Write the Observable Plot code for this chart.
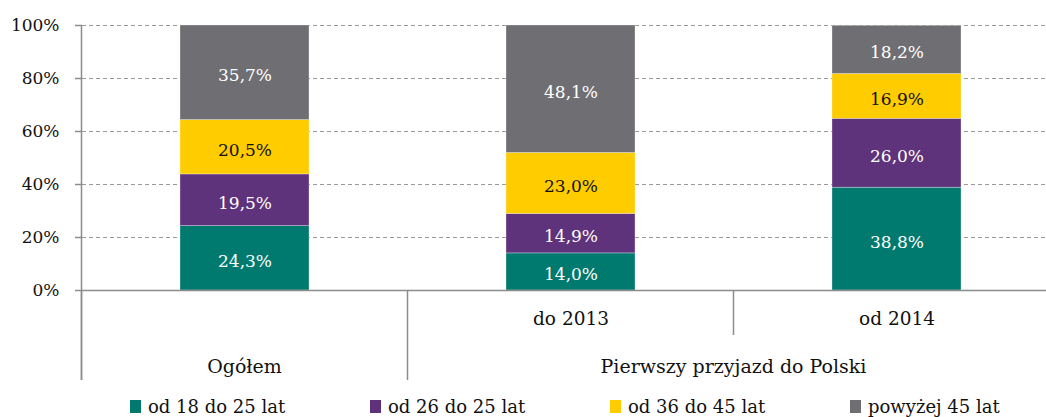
<!DOCTYPE html>
<html><head><meta charset="utf-8">
<script src="https://cdn.jsdelivr.net/npm/d3@7"></script>
<script src="https://cdn.jsdelivr.net/npm/@observablehq/plot@0.6"></script>
<style>
body{margin:0;background:#fff;}
#chart svg{display:block;font-family:"DejaVu Serif",serif;}
#chart svg text{font-family:"DejaVu Serif",serif;}
#chart g[aria-label="y-axis tick"] path{stroke:#8c8c8c;stroke-width:1.5;}
#chart g[aria-label="y-axis tick label"]{fill:#111;font-size:17px;}
#chart g[aria-label="x-axis tick label"]{fill:#111;font-size:18.5px;}
#legend{display:block;font-family:"DejaVu Serif",serif;}
</style></head>
<body><div id="chart"></div>
<script>
// ---- data ----
const categories = ["Ogółem", "do 2013", "od 2014"];
const groups = [
  {name: "Ogółem", members: ["Ogółem"]},
  {name: "Pierwszy przyjazd do Polski", members: ["do 2013", "od 2014"]}
];
const seriesNames = ["od 18 do 25 lat", "od 26 do 25 lat", "od 36 do 45 lat", "powyżej 45 lat"];
const age18to25 = [24.3, 14.0, 38.8];
const age26to35 = [19.5, 14.9, 26.0];
const age36to45 = [20.5, 23.0, 16.9];
const age45plus = [35.7, 48.1, 18.2];
const yTicks = [0, 20, 40, 60, 80, 100];
const seriesColors = ["#007a6f", "#5e337b", "#ffcc00", "#6f6e73"];

const seriesValues = [age18to25, age26to35, age36to45, age45plus];
const table = [];
seriesNames.forEach((s, i) => categories.forEach((c, j) => table.push({series: s, category: c, value: seriesValues[i][j]})));
const fmt = v => v.toFixed(1).replace(".", ",") + "%";
const darkText = seriesNames[2];

const PAD = 0.604;
const LEVEL1 = 45, LEVEL2 = 90;

function categoryFrame(index, scales, values, dims) {
  const x = scales.x, y = scales.y;
  const step = typeof x.step === "function" ? x.step() : x(categories[1]) - x(categories[0]);
  const bw = typeof x.bandwidth === "function" ? x.bandwidth() : step * (1 - PAD);
  const center = c => x(c) + bw / 2;
  const left = c => center(c) - step / 2;
  const base = y(0);
  const g = d3.create("svg:g");
  const line = (x0, y1, y2) => g.append("line").attr("x1", x0).attr("x2", x0).attr("y1", y1).attr("y2", y2)
    .attr("stroke", "#8c8c8c").attr("stroke-width", 1.5);
  line(left(categories[0]), y(100), base + LEVEL2);
  groups.forEach(gr => {
    line(left(gr.members[0]), base, base + LEVEL2);
    gr.members.slice(1).forEach(m => line(left(m), base, base + LEVEL1));
    const cx = d3.mean(gr.members, center);
    g.append("text").attr("x", cx).attr("y", base + 83).attr("text-anchor", "middle")
      .attr("fill", "#111").attr("font-size", 19).text(gr.name);
  });
  return g.node();
}

const chart = Plot.plot({
  width: 1046,
  height: 390,
  marginTop: 25,
  marginBottom: 100,
  marginLeft: 82,
  marginRight: 0,
  style: {fontFamily: "DejaVu Serif", fontSize: "17px", background: "#fff", overflow: "hidden"},
  x: {domain: categories, range: [82, 1060], paddingInner: PAD, paddingOuter: PAD / 2, align: 0.5,
      tickSize: 0, tickPadding: 21, tickFormat: d => (groups.some(g => g.name === d) ? "" : d), label: null},
  y: {domain: [0, 100], ticks: yTicks, tickFormat: d => d + "%", tickSize: 7, tickPadding: 16, label: null},
  color: {domain: seriesNames, range: seriesColors},
  marks: [
    Plot.ruleY(yTicks.filter(d => d > 0), {stroke: "#9a9a9a", strokeWidth: 1.2, strokeDasharray: "4,3"}),
    Plot.barY(table, {x: "category", y: "value", fill: "series", stroke: "#ffffff", strokeWidth: 0.6, strokeOpacity: 0.5}),
    Plot.text(table, Plot.stackY({x: "category", y: "value", z: "series",
      text: d => d.series === darkText ? null : fmt(d.value), fill: "#ffffff", fontSize: 17, dy: 3})),
    Plot.text(table, Plot.stackY({x: "category", y: "value", z: "series",
      text: d => d.series === darkText ? fmt(d.value) : null, fill: "#111111", fontSize: 17, dy: 3})),
    Plot.ruleY([0], {stroke: "#8c8c8c", strokeWidth: 1.5}),
    categoryFrame
  ]
});
document.getElementById("chart").appendChild(chart);

// ---- legend ----
const leg = d3.select("#chart").append("svg").attr("id", "legend").attr("width", 1046).attr("height", 27);
seriesNames.forEach((s, i) => {
  const g = leg.append("g").attr("transform", `translate(${130 + i * 240},0)`);
  g.append("rect").attr("x", 0).attr("y", 10).attr("width", 11).attr("height", 13).attr("fill", seriesColors[i]);
  g.append("text").attr("x", 18).attr("y", 23).attr("fill", "#111").attr("font-size", 18).text(s);
});
</script></body></html>
